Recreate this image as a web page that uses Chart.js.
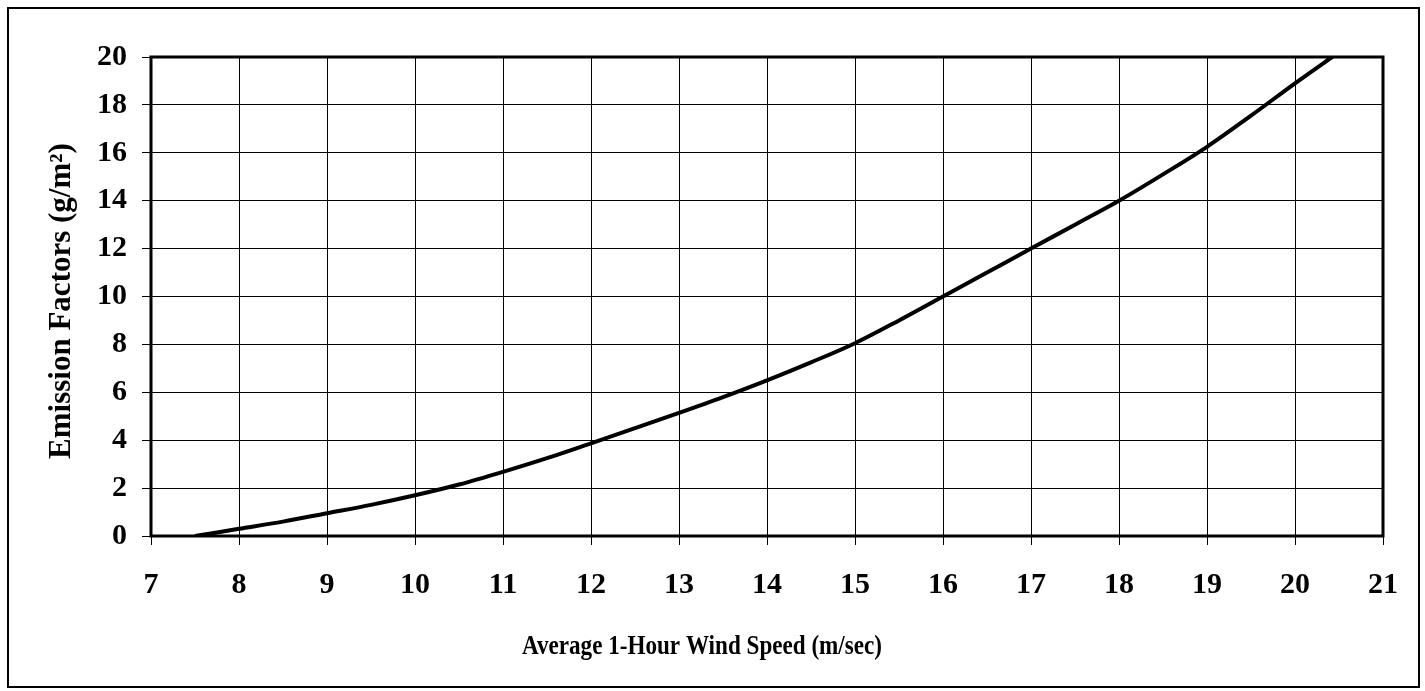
<!DOCTYPE html>
<html>
<head>
<meta charset="utf-8">
<script src="https://cdn.jsdelivr.net/npm/chart.js@4/dist/chart.umd.min.js"></script>
<style>
  html, body { margin: 0; padding: 0; background: #fff; }
  #wrap { width: 1425px; height: 691px; position: relative; }
</style>
</head>
<body>
<div id="wrap"><canvas id="emission"></canvas></div>
<script>
// wind speed (m/sec) and emission factor (g/m2)
const windSpeed = [7.5, 8, 8.5, 9, 9.5, 10, 10.5, 11, 11.5, 12, 12.5, 13, 13.5, 14, 14.5,
  15, 15.5, 16, 16.5, 17, 17.5, 18, 18.5, 19, 19.5, 20, 20.5];
const emissionFactor = [0, 0.3, 0.6, 0.95, 1.3, 1.7, 2.15, 2.68, 3.25, 3.87, 4.5, 5.14, 5.8, 6.5, 7.25,
  8.05, 9.0, 10.0, 11.0, 12.0, 13.0, 14.0, 15.1, 16.25, 17.55, 18.9, 20.2];

const xTicks = [7, 8, 9, 10, 11, 12, 13, 14, 15, 16, 17, 18, 19, 20, 21];
const yTicks = [0, 2, 4, 6, 8, 10, 12, 14, 16, 18, 20];

const xTitle = "Average 1-Hour Wind Speed (m/sec)";
const yTitle = "Emission Factors (g/m²)";

const serif = "'Liberation Serif', 'Times New Roman', serif";

// frame, thick plot border and the two axis titles
const decorations = {
  id: "decorations",
  afterDraw(chart) {
    const { ctx, chartArea: a } = chart;
    ctx.save();
    ctx.strokeStyle = "#000";
    ctx.lineWidth = 2;
    ctx.strokeRect(8, 8, 1411, 679);
    ctx.lineWidth = 3;
    ctx.strokeRect(a.left, a.top, a.right - a.left, a.bottom - a.top);

    ctx.fillStyle = "#000";
    ctx.textBaseline = "alphabetic";

    // x title is set a bit narrow in the original
    ctx.save();
    ctx.font = "bold 27px " + serif;
    ctx.textAlign = "left";
    const w = ctx.measureText(xTitle).width;
    ctx.translate(522, 654);
    ctx.scale(360 / w, 1);
    ctx.fillText(xTitle, 0, 0);
    ctx.restore();

    ctx.font = "bold 31px " + serif;
    ctx.translate(70, 301);
    ctx.rotate(-Math.PI / 2);
    ctx.textAlign = "center";
    ctx.fillText(yTitle, 0, 0);
    ctx.restore();
  }
};

new Chart(document.getElementById("emission"), {
  type: "line",
  data: {
    datasets: [{
      data: windSpeed.map((x, i) => ({ x, y: emissionFactor[i] })),
      borderColor: "#000",
      borderWidth: 4,
      pointRadius: 0,
      cubicInterpolationMode: "monotone",
      fill: false
    }]
  },
  options: {
    responsive: true,
    maintainAspectRatio: false,
    animation: false,
    layout: { padding: { left: 0, top: 57, right: 42, bottom: 0 } },
    plugins: { legend: { display: false }, tooltip: { enabled: false } },
    scales: {
      x: {
        type: "linear",
        min: 7,
        max: 21,
        afterFit(scale) { scale.height = 155; },
        afterBuildTicks(scale) { scale.ticks = xTicks.map(v => ({ value: v })); },
        grid: { color: "#000", lineWidth: 1, tickLength: 9 },
        border: { display: false },
        ticks: {
          color: "#000",
          padding: 22,
          maxRotation: 0,
          font: { family: serif, size: 30, weight: "bold" }
        }
      },
      y: {
        min: 0,
        max: 20,
        afterFit(scale) { scale.width = 151; },
        afterBuildTicks(scale) { scale.ticks = yTicks.map(v => ({ value: v })); },
        grid: { color: "#000", lineWidth: 1, tickLength: 9 },
        border: { display: false },
        ticks: {
          color: "#000",
          padding: 15,
          font: { family: serif, size: 30, weight: "bold" }
        }
      }
    }
  },
  plugins: [decorations]
});
</script>
</body>
</html>
